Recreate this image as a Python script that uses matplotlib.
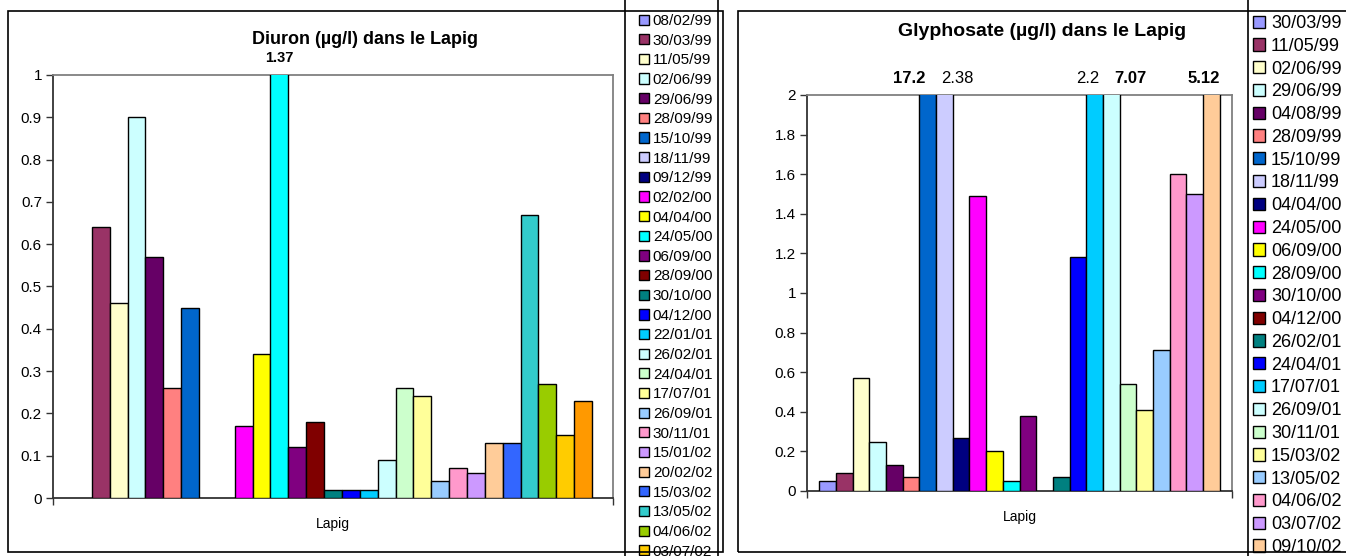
import numpy as np
import matplotlib
matplotlib.use("Agg")
import matplotlib.pyplot as plt
from matplotlib.patches import Patch, Rectangle
from matplotlib.ticker import FormatStrFormatter, MultipleLocator

plt.rcParams['font.family'] = ['Liberation Sans', 'DejaVu Sans']

# ---------------- data ----------------
diuron_dates = ["08/02/99", "30/03/99", "11/05/99", "02/06/99", "29/06/99", "28/09/99",
                "15/10/99", "18/11/99", "09/12/99", "02/02/00", "04/04/00", "24/05/00",
                "06/09/00", "28/09/00", "30/10/00", "04/12/00", "22/01/01", "26/02/01",
                "24/04/01", "17/07/01", "26/09/01", "30/11/01", "15/01/02", "20/02/02",
                "15/03/02", "13/05/02", "04/06/02", "03/07/02", "09/10/02"]
diuron_values = [np.nan, 0.64, 0.46, 0.90, 0.57, 0.26,
                 0.45, np.nan, np.nan, 0.17, 0.34, 1.37,
                 0.12, 0.18, 0.02, 0.02, 0.02, 0.09,
                 0.26, 0.24, 0.04, 0.07, 0.06, 0.13,
                 0.13, 0.67, 0.27, 0.15, 0.23]

glypho_dates = ["30/03/99", "11/05/99", "02/06/99", "29/06/99", "04/08/99", "28/09/99",
                "15/10/99", "18/11/99", "04/04/00", "24/05/00", "06/09/00", "28/09/00",
                "30/10/00", "04/12/00", "26/02/01", "24/04/01", "17/07/01", "26/09/01",
                "30/11/01", "15/03/02", "13/05/02", "04/06/02", "03/07/02", "09/10/02"]
glypho_values = [0.05, 0.09, 0.57, 0.25, 0.13, 0.07,
                 17.2, 2.38, 0.27, 1.49, 0.20, 0.05,
                 0.38, np.nan, 0.07, 1.18, 2.2, 7.07,
                 0.54, 0.41, 0.71, 1.60, 1.50, 5.12]

category = "Lapig"
diuron_title = "Diuron (µg/l) dans le Lapig"
glypho_title = "Glyphosate (µg/l) dans le Lapig"

# Excel default series palette
palette = ["#9999FF", "#993366", "#FFFFCC", "#CCFFFF", "#660066", "#FF8080", "#0066CC",
           "#CCCCFF", "#000080", "#FF00FF", "#FFFF00", "#00FFFF", "#800080", "#800000",
           "#008080", "#0000FF", "#00CCFF", "#CCFFFF", "#CCFFCC", "#FFFF99", "#99CCFF",
           "#FF99CC", "#CC99FF", "#FFCC99", "#3366FF", "#33CCCC", "#99CC00", "#FFCC00",
           "#FF9900"]

W, H = 1346, 556
fig = plt.figure(figsize=(W / 100, H / 100), dpi=100)


def px_rect(x0, y0, x1, y1):
    return [x0 / W, 1 - y1 / H, (x1 - x0) / W, (y1 - y0) / H]


def frame(x0, y0, x1, y1, z=10):
    r = Rectangle((x0 / W, 1 - y1 / H), (x1 - x0) / W, (y1 - y0) / H,
                  transform=fig.transFigure, fill=False, edgecolor="black",
                  linewidth=1.2, zorder=z)
    fig.add_artist(r)


def draw_chart(ax, dates, values, ymax, ystep, gap, labels_style, fs_lab):
    n = len(values)
    w = 1.0 / (n + gap)
    start = (1 - n * w) / 2
    handles = []
    for i, (d, v) in enumerate(zip(dates, values)):
        xc = start + (i + 0.5) * w
        col = palette[i % len(palette)]
        if not np.isnan(v):
            ax.bar(xc, v, width=w, color=col, edgecolor="black", linewidth=1.0, zorder=3)
        handles.append(Patch(facecolor=col, edgecolor="black", linewidth=1.0, label=d))
        if i in labels_style:
            dx, bold = labels_style[i]
            ax.annotate(f"{v:g}", xy=(xc, ymax), xytext=(dx, 12), textcoords="offset points",
                        ha="center", va="center", fontsize=fs_lab,
                        fontweight="bold" if bold else "normal", annotation_clip=False)
    ax.set_xlim(0, 1)
    ax.set_ylim(0, ymax)
    ax.yaxis.set_major_locator(MultipleLocator(ystep))
    ax.yaxis.set_major_formatter(FormatStrFormatter("%g"))
    ax.set_xticks([0.5])
    ax.set_xticklabels([category])
    ax.set_xticks([0, 1], minor=True)
    ax.tick_params(axis="x", which="major", length=0, pad=14, labelsize=10)
    ax.tick_params(axis="x", which="minor", length=5, width=1, color="#333333")
    ax.tick_params(axis="y", length=5, width=1, color="#333333", labelsize=11, pad=3)
    for s in ("left", "bottom"):
        ax.spines[s].set_color("#333333")
        ax.spines[s].set_linewidth(1.3)
    for s in ("top", "right"):
        ax.spines[s].set_color("#808080")
        ax.spines[s].set_linewidth(1.3)
    return handles


# Left chart
ax1 = fig.add_axes(px_rect(53, 75, 613, 498))
h1 = draw_chart(ax1, diuron_dates, diuron_values, 1.0, 0.1, 2.35,
                {11: (0, True)}, 10.5)
fig.text(365 / W, 1 - 40 / H, diuron_title, ha="center", va="center",
         fontsize=13, fontweight="bold")
fs1 = 11
leg1 = fig.legend(handles=h1, loc="upper left", bbox_to_anchor=(639 / W, 1 - 14 / H),
                  borderaxespad=0, borderpad=0, fontsize=fs1, frameon=False,
                  handlelength=0.65, handleheight=0.65,
                  handletextpad=0.25, labelspacing=0.37)
frame(625, -5, 718, 570, z=6)

# Right chart
ax2 = fig.add_axes(px_rect(807, 95, 1232, 491))
h2 = draw_chart(ax2, glypho_dates, glypho_values, 2.0, 0.2, 1.45,
                {6: (-13, True), 7: (9.4, False), 16: (-5, False), 17: (13.7, True),
                 23: (-5.8, True)}, 12)
fig.text(1042 / W, 1 - 32 / H, glypho_title, ha="center", va="center",
         fontsize=14, fontweight="bold")
fs2 = 13
leg2 = fig.legend(handles=h2, loc="upper left", bbox_to_anchor=(1253 / W, 1 - 15 / H),
                  borderaxespad=0, borderpad=0, fontsize=fs2, frameon=False,
                  handlelength=0.67, handleheight=0.67,
                  handletextpad=0.33, labelspacing=0.32)
frame(1248, -5, 1400, 570, z=6)

# Chart frames
frame(8, 11, 723, 552)
frame(738, 11, 1360, 552)

fig.savefig("out.png", dpi=100)
